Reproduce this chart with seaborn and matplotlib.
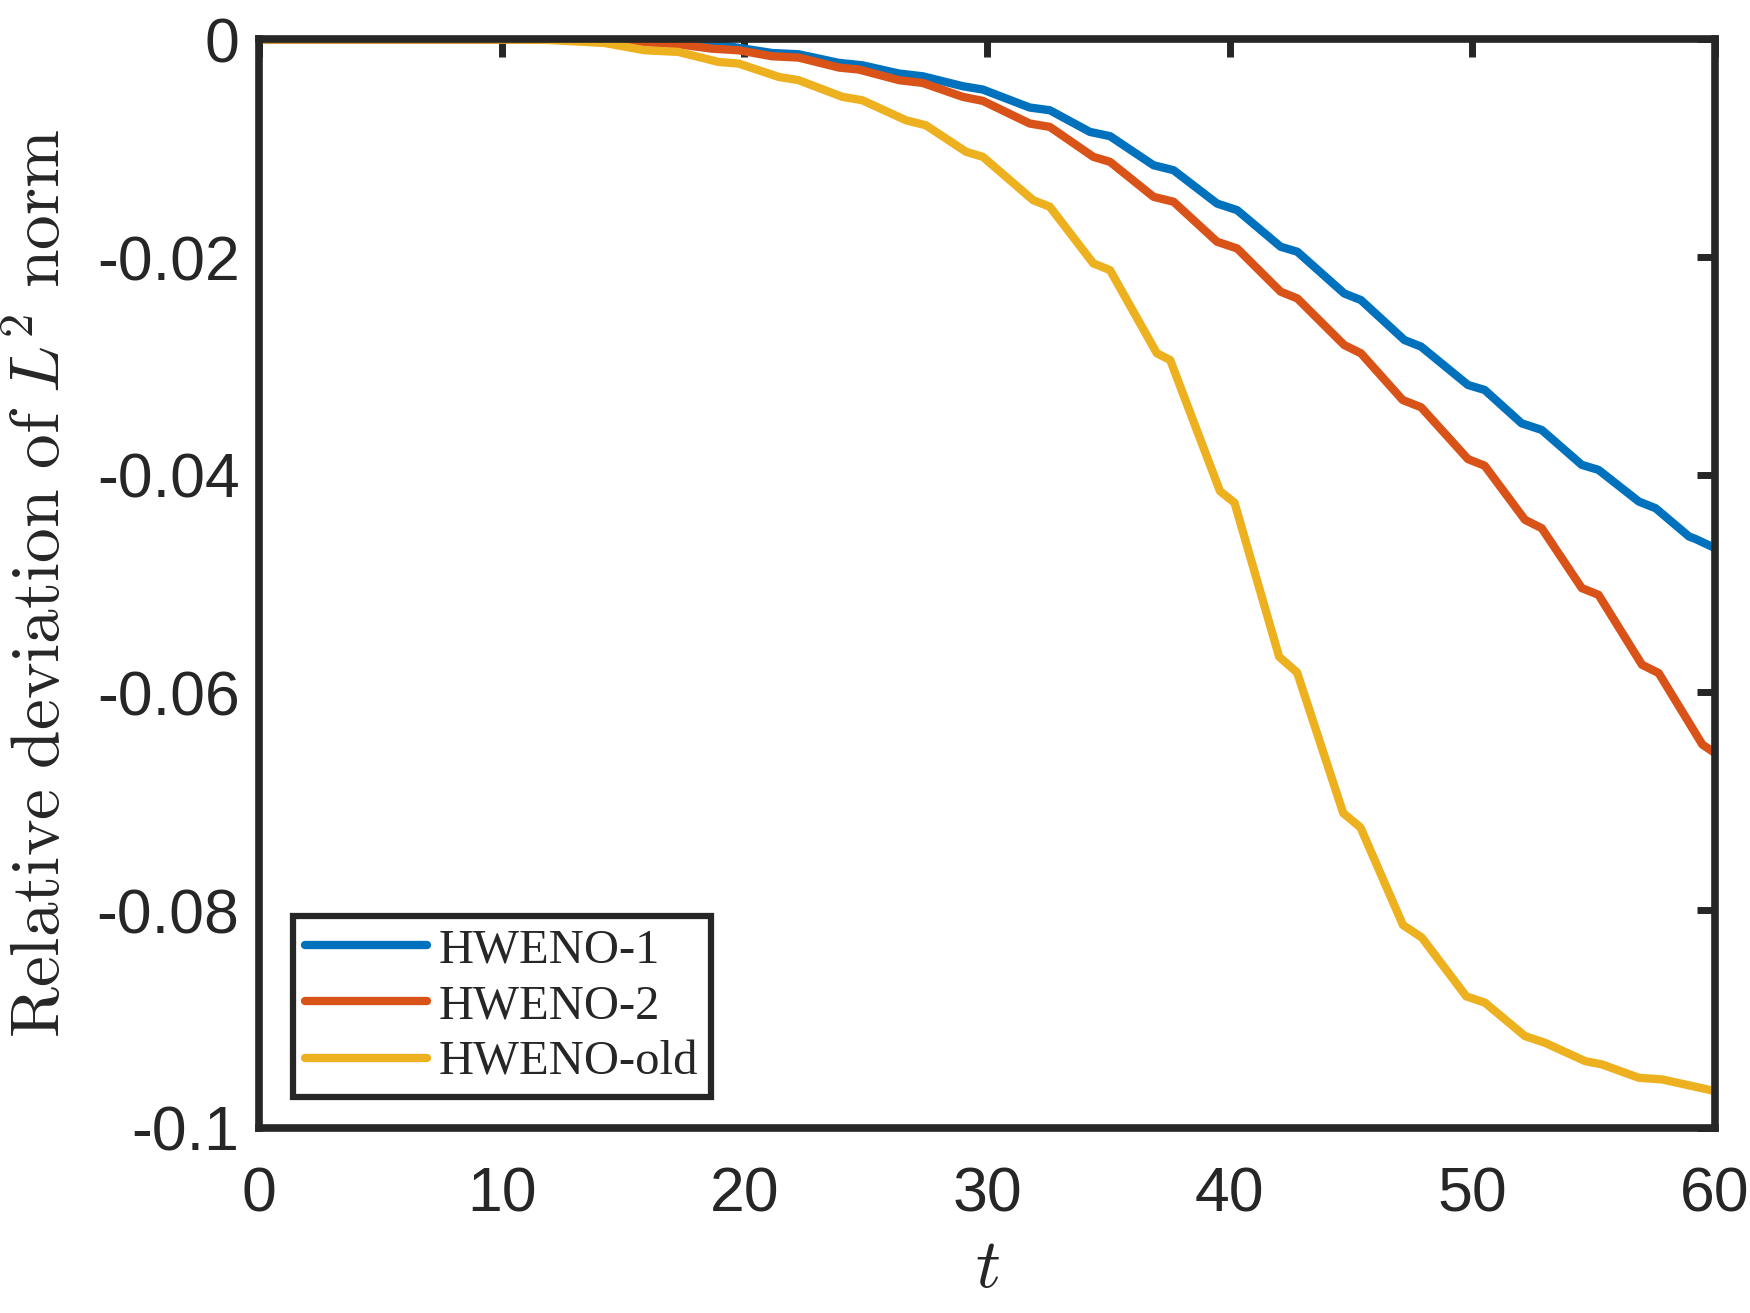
import matplotlib
matplotlib.use('Agg')
import matplotlib.pyplot as plt
import numpy as np
import pandas as pd
import seaborn as sns

# values
t_h1 = [0, 5, 10, 12, 14, 16, 18.66, 21.14, 22.24, 23.90, 24.86, 26.38, 27.35, 29.00, 29.83,
        31.76, 32.59, 34.24, 35.07, 36.86, 37.69, 39.48, 40.31, 42.10, 42.79, 44.72, 45.41,
        47.20, 47.89, 49.82, 50.51, 52.03, 52.86, 54.51, 55.20, 56.86, 57.55, 58.93, 59.2, 60]
v_h1 = [0, 0, 0, -0.00002, -0.00006, -0.00015, -0.00039, -0.00125, -0.00137, -0.00216, -0.00238,
        -0.00314, -0.00339, -0.00430, -0.00461, -0.00626, -0.00651, -0.00850, -0.00889, -0.01156,
        -0.01202, -0.01508, -0.01569, -0.01905, -0.01951, -0.02334, -0.02395, -0.02762, -0.02823,
        -0.03175, -0.03221, -0.03527, -0.03588, -0.03909, -0.03955, -0.04246, -0.04307, -0.04567,
        -0.04590, -0.04674]

t_h2 = [0, 5, 10, 12, 14.52, 16.45, 17.28, 18.66, 19.76, 21.14, 22.24, 23.90, 24.72, 26.38, 27.35,
        29.00, 29.83, 31.76, 32.59, 34.38, 35.07, 36.86, 37.69, 39.48, 40.31, 42.10, 42.79, 44.72,
        45.41, 47.13, 47.89, 49.82, 50.51, 52.17, 52.86, 54.51, 55.20, 56.99, 57.68, 59.48, 60]
v_h2 = [0, 0, 0, -0.00002, -0.00008, -0.00033, -0.00045, -0.00085, -0.00100, -0.00155, -0.00167,
        -0.00259, -0.00277, -0.00375, -0.00400, -0.00528, -0.00565, -0.00773, -0.00804, -0.01079,
        -0.01125, -0.01446, -0.01492, -0.01859, -0.01921, -0.02318, -0.02380, -0.02808, -0.02884,
        -0.03313, -0.03380, -0.03856, -0.03917, -0.04414, -0.04491, -0.05041, -0.05103, -0.05745,
        -0.05822, -0.06479, -0.06556]

t_old = [0, 5, 9, 11.76, 14.24, 15.9, 17.28, 18.93, 19.76, 21.42, 22.24, 24.04, 24.86, 26.66, 27.48,
         29.14, 29.83, 31.9, 32.59, 34.38, 35.07, 37.0, 37.55, 39.6, 40.2, 42.04, 42.78, 44.68,
         45.39, 47.14, 47.92, 49.75, 50.52, 52.17, 52.99, 54.65, 55.34, 56.86, 57.82, 60]
v_old = [0, 0, 0, -0.00003, -0.00033, -0.00100, -0.00115, -0.00207, -0.00222, -0.00345, -0.00375,
         -0.00528, -0.00559, -0.00743, -0.00789, -0.01033, -0.01079, -0.01477, -0.01538, -0.02058,
         -0.02120, -0.02884, -0.02946, -0.04150, -0.04257, -0.05672, -0.05817, -0.07108, -0.07240,
         -0.08136, -0.08252, -0.08792, -0.08850, -0.09157, -0.09218, -0.09387, -0.09417, -0.09540,
         -0.09555, -0.09662]

names = ['HWENO-1', 'HWENO-2', 'HWENO-old']
colors = ['#0072BD', '#D95319', '#EDB120']
xticks = [0, 10, 20, 30, 40, 50, 60]
yticks = [-0.1, -0.08, -0.06, -0.04, -0.02, 0]
ytick_labels = ['-0.1', '-0.08', '-0.06', '-0.04', '-0.02', '0']

frame = pd.concat([
    pd.DataFrame({'t': t_h1, 'v': v_h1, 'method': names[0]}),
    pd.DataFrame({'t': t_h2, 'v': v_h2, 'method': names[1]}),
    pd.DataFrame({'t': t_old, 'v': v_old, 'method': names[2]}),
], ignore_index=True)

sns.set_style('white')
plt.rcParams['font.family'] = ['Liberation Sans', 'DejaVu Sans']
plt.rcParams['mathtext.fontset'] = 'cm'
dark = '#262626'

fig = plt.figure(figsize=(17.5, 13.13), dpi=100)
ax = fig.add_axes([0.148, 0.141, 0.832, 0.829])

sns.lineplot(data=frame, x='t', y='v', hue='method', palette=colors, estimator=None,
             linewidth=6, ax=ax, legend=True, solid_joinstyle='round')

ax.set_xlim(0, 60)
ax.set_ylim(-0.1, 0)
ax.set_xticks(xticks)
ax.set_xticklabels([str(x) for x in xticks])
ax.set_yticks(yticks)
ax.set_yticklabels(ytick_labels)

for s in ax.spines.values():
    s.set_linewidth(5.5)
    s.set_color(dark)
    s.set_visible(True)
ax.tick_params(axis='both', direction='in', length=13, width=5, colors=dark,
               labelsize=45, top=True, right=True, labelcolor=dark)
ax.tick_params(axis='x', pad=27)
ax.tick_params(axis='y', pad=14)

ax.set_xlabel(r'$t$', fontsize=50, color=dark)
ax.set_ylabel(r'$\mathrm{Relative\ deviation\ of}\ L^2\ \mathrm{norm}$', fontsize=50, color=dark)
ax.xaxis.set_label_coords(0.5, -0.1)
ax.yaxis.set_label_coords(-0.127, 0.5)

leg = ax.legend(loc='lower left', bbox_to_anchor=(0.0234, 0.0285), borderaxespad=0,
                prop={'family': 'Liberation Serif', 'size': 35}, frameon=True, fancybox=False,
                handlelength=2.5, handletextpad=0.25, labelspacing=0.25, borderpad=0.25)
leg.get_frame().set_edgecolor(dark)
leg.get_frame().set_linewidth(4.5)
leg.get_frame().set_facecolor('white')
leg.get_frame().set_alpha(1)
for line in leg.get_lines():
    line.set_linewidth(6)
for text in leg.get_texts():
    text.set_color(dark)

fig.savefig('out.png', dpi=100, facecolor='white')
